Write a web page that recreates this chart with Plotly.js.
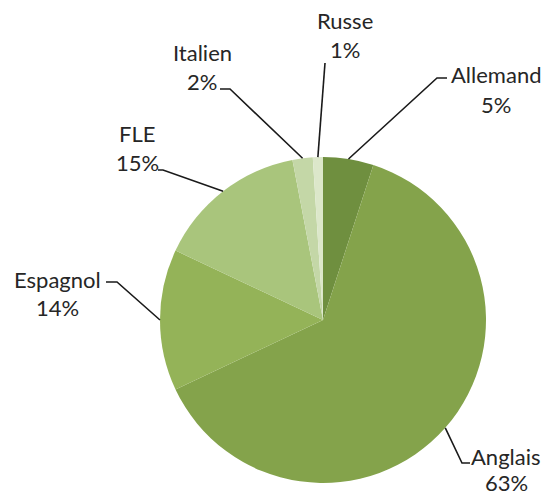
<!DOCTYPE html>
<html>
<head>
<meta charset="utf-8">
<script src="https://cdn.plot.ly/plotly-3.0.1.min.js"></script>
<style>html,body{margin:0;padding:0;background:#fff;}#chart{width:546px;height:495px;}</style>
</head>
<body>
<div id="chart"></div>
<script>
// ---- data ----
const languages = ["Allemand", "Anglais", "Espagnol", "FLE", "Italien", "Russe"];
const shares = [5, 63, 14, 15, 2, 1];
const percentLabels = ["5%", "63%", "14%", "15%", "2%", "1%"];

// ---- style / layout ----
const colors = ["#6f8f3f", "#84a34b", "#94b358", "#a9c57c", "#c4d7a7", "#dce7ca"];
const W = 546, H = 495;
const CX = 323, CY = 320, R = 163;
// label positions: name line y, percent line y, x center; leader elbow/end points (pixels)
const labelLayout = {
  Allemand: {tx: 496, ny: 75, py: 104, pts: [[437, 78], [447, 78]]},
  Anglais:  {tx: 506, ny: 456, py: 482, pts: [[462, 463], [470, 463]]},
  Espagnol: {tx: 57, ny: 279, py: 307, pts: [[117, 282], [106, 282]]},
  FLE:      {tx: 137, ny: 134, py: 162, pts: [[163, 170], [158, 170]]},
  Italien:  {tx: 202, ny: 52, py: 82, pts: [[230, 89], [220, 89]]},
  Russe:    {tx: 345, ny: 20, py: 50, pts: [[325, 63]]}
};
const font = {family: "Lato, 'Open Sans', sans-serif", size: 22, color: "#262626"};

const px = x => x / W;
const pyf = y => 1 - y / H;

const total = shares.reduce((a, b) => a + b, 0);
let cum = 0;
const annotations = [];
const shapes = [];
languages.forEach((lang, i) => {
  const mid = (cum + shares[i] / 2) / total * 2 * Math.PI;
  cum += shares[i];
  const ex = CX + R * Math.sin(mid);
  const ey = CY - R * Math.cos(mid);
  const L = labelLayout[lang];
  let path = `M${px(ex)},${pyf(ey)}`;
  L.pts.forEach(p => { path += ` L${px(p[0])},${pyf(p[1])}`; });
  shapes.push({type: "path", xref: "paper", yref: "paper", path: path,
               line: {color: "#1a1a1a", width: 1.6}});
  annotations.push({xref: "paper", yref: "paper", x: px(L.tx), y: pyf(L.ny),
                    xanchor: "center", yanchor: "middle", showarrow: false,
                    text: lang, font: font});
  annotations.push({xref: "paper", yref: "paper", x: px(L.tx), y: pyf(L.py),
                    xanchor: "center", yanchor: "middle", showarrow: false,
                    text: percentLabels[i], font: font});
});

const trace = {
  type: "pie",
  labels: languages,
  values: shares,
  sort: false,
  direction: "clockwise",
  rotation: 0,
  textinfo: "none",
  hoverinfo: "label+percent",
  marker: {colors: colors, line: {width: 0}},
  domain: {x: [px(CX - R), px(CX + R)], y: [pyf(CY + R), pyf(CY - R)]}
};

const layout = {
  width: W, height: H,
  margin: {l: 0, r: 0, t: 0, b: 0},
  paper_bgcolor: "#ffffff",
  showlegend: false,
  annotations: annotations,
  shapes: shapes
};

Plotly.newPlot("chart", [trace], layout, {displayModeBar: false, staticPlot: true});
</script>
</body>
</html>
